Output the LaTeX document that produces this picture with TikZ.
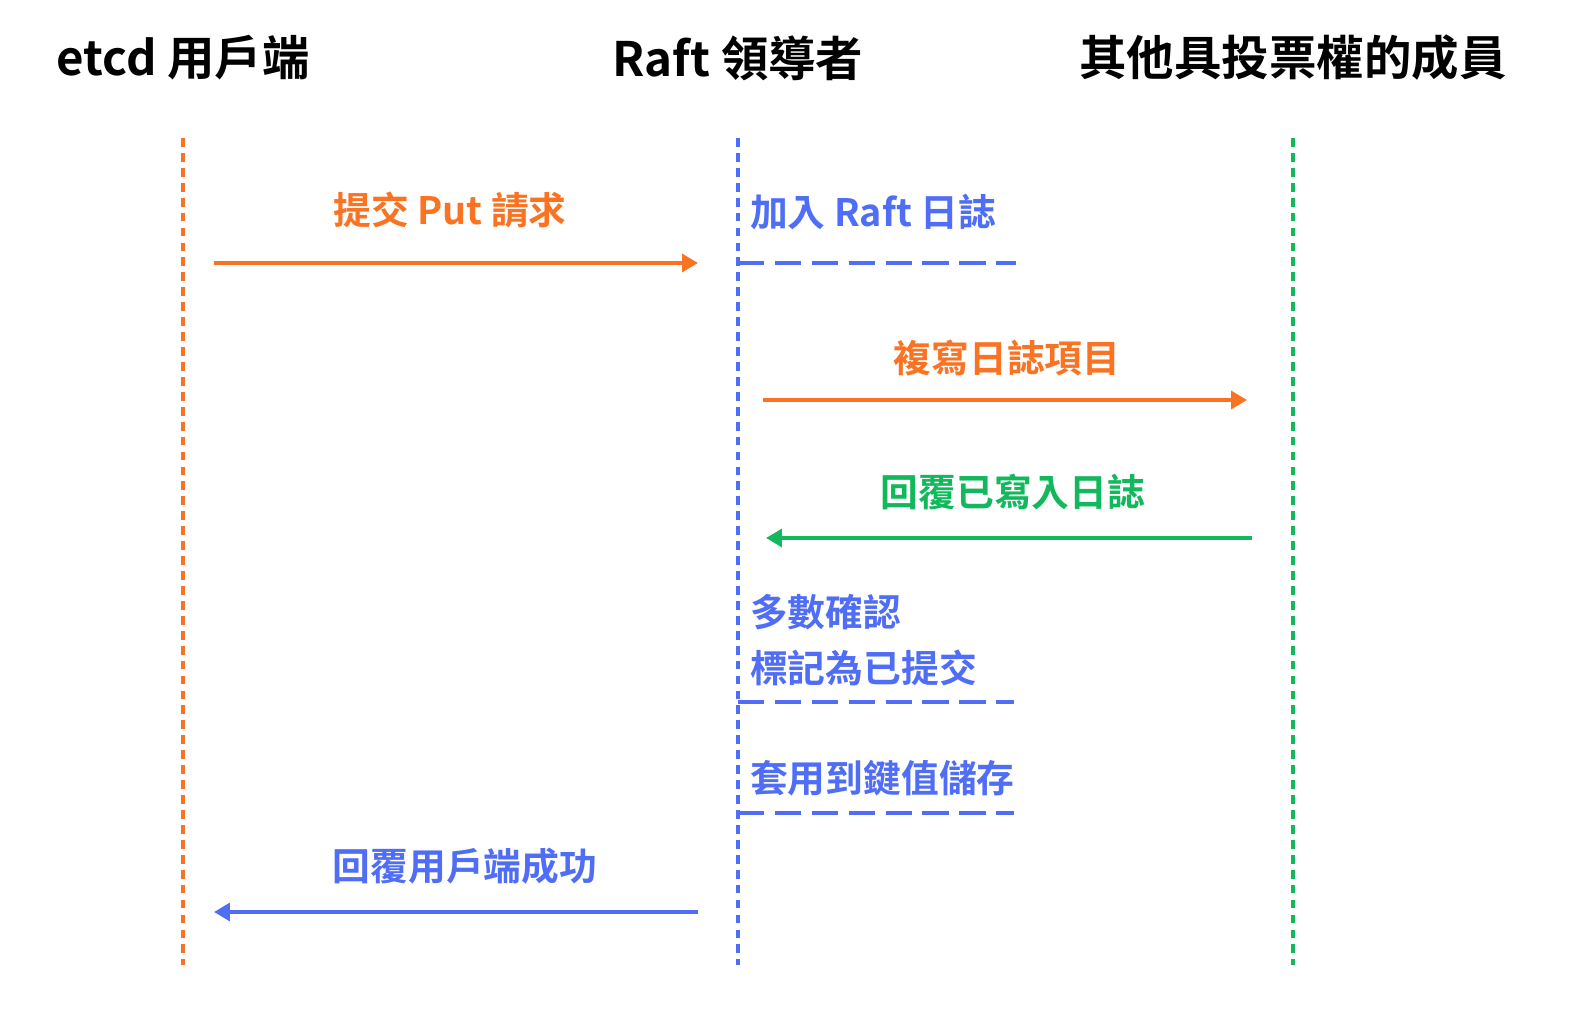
\documentclass[tikz,border=0pt]{standalone}
\usepackage{fontspec}
\setmainfont{Noto Sans CJK TC}[BoldFont={Noto Sans CJK TC Bold}]
\usepackage{xcolor}
\usetikzlibrary{arrows.meta, positioning}
\definecolor{colorO}{HTML}{F97323}
\definecolor{colorB}{HTML}{4F6EF5}
\definecolor{colorG}{HTML}{12B85C}

\begin{document}
\begin{tikzpicture}[x=0.02cm,y=-0.02cm,
        head/.style={font=\bfseries\fontsize{27}{32}\selectfont},
        lbl/.style={font=\bfseries\fontsize{21.5}{26}\selectfont},
        life/.style={line width=1.8pt,dash pattern=on 5pt off 3.5pt},
        msg/.style={line width=2.6pt,-{Triangle[length=9pt,width=10pt]}},
        act/.style={colorB,line width=2.6pt,dash pattern=on 15pt off 6pt}]
        \useasboundingbox (0,0) rectangle (1592,1016);
        % headers
        \node[head] (hc) at (183,58) {etcd 用戶端};
        \node[head] (hl) at (738,58) {Raft 領導者};
        \node[head] (hm) at (1293,58) {其他具投票權的成員};
        % lifelines
        \coordinate (c0) at (183,138); \coordinate (c1) at (183,965);
        \coordinate (l0) at (738,138); \coordinate (l1) at (738,965);
        \coordinate (m0) at (1293,138); \coordinate (m1) at (1293,965);
        \draw[life,colorO] (c0) -- (c1);
        \draw[life,colorB] (l0) -- (l1);
        \draw[life,colorG] (m0) -- (m1);
        % put request
        \coordinate (p0) at (214,263); \coordinate (p1) at (698,263);
        \draw[msg,colorO] (p0) -- (p1);
        \node[lbl,colorO] (put) at (450,210) {提交 Put 請求};
        % append to log
        \node[lbl,colorB,anchor=west] (app) at (744,212) {加入 Raft 日誌};
        \coordinate (a0) at (738,263); \coordinate (a1) at (1016,263);
        \draw[act] (a0) -- (a1);
        % replicate
        \coordinate (r0) at (763,400); \coordinate (r1) at (1247,400);
        \draw[msg,colorO] (r0) -- (r1);
        \node[lbl,colorO] (rep) at (1007,358) {複寫日誌項目};
        % ack
        \coordinate (k0) at (1252,538); \coordinate (k1) at (766,538);
        \draw[msg,colorG] (k0) -- (k1);
        \node[lbl,colorG] (ack) at (1013,492) {回覆已寫入日誌};
        % commit
        \node[lbl,colorB,anchor=west] (maj) at (744,612) {多數確認};
        \node[lbl,colorB,anchor=west] (cmt) at (744,668) {標記為已提交};
        \coordinate (d0) at (738,702); \coordinate (d1) at (1014,702);
        \draw[act] (d0) -- (d1);
        % apply
        \node[lbl,colorB,anchor=west] (kv) at (744,778) {套用到鍵值儲存};
        \coordinate (e0) at (738,813); \coordinate (e1) at (1014,813);
        \draw[act] (e0) -- (e1);
        % reply
        \coordinate (s0) at (698,912); \coordinate (s1) at (214,912);
        \draw[msg,colorB] (s0) -- (s1);
        \node[lbl,colorB] (ok) at (465,866) {回覆用戶端成功};
\end{tikzpicture}
\end{document}
